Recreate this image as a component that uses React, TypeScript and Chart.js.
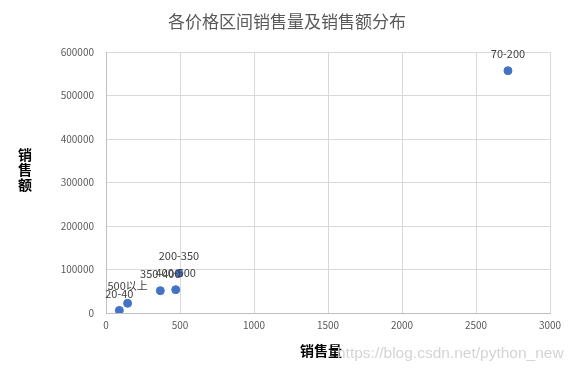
import React, { useEffect, useRef } from "react";
import { Chart, registerables } from "chart.js";

Chart.register(...registerables);

const categories = ["20-40", "500以上", "350-400", "400-500", "200-350", "70-200"];
const salesVolume = [90, 146, 367, 471, 493, 2716];
const salesAmount = [6000, 22300, 51300, 53600, 91300, 557000];
const xTicks = [0, 500, 1000, 1500, 2000, 2500, 3000];
const yTicks = [0, 100000, 200000, 300000, 400000, 500000, 600000];
const titleText = "各价格区间销售量及销售额分布";
const xTitle = "销售量";
const yTitle = "销售额";
const watermark = "https://blog.csdn.net/python_new";

const FONT = "'Noto Sans CJK SC', 'Liberation Sans', sans-serif";

export default function App() {
  const ref = useRef<HTMLCanvasElement | null>(null);
  useEffect(() => {
    document.body.style.margin = "0";
    const canvas = ref.current;
    if (!canvas) return;
    const labelPlugin = {
      id: "customText",
      afterDatasetsDraw(chart: any) {
        const ctx = chart.ctx;
        const meta = chart.getDatasetMeta(0);
        ctx.save();
        ctx.font = `11px ${FONT}`;
        ctx.fillStyle = "#404040";
        ctx.textAlign = "center";
        ctx.textBaseline = "middle";
        meta.data.forEach((pt: any, i: number) => {
          ctx.fillText(categories[i], pt.x, pt.y - 17);
        });
        ctx.restore();
      },
      afterDraw(chart: any) {
        const ctx = chart.ctx;
        const area = chart.chartArea;
        ctx.save();
        ctx.textAlign = "center";
        ctx.textBaseline = "middle";
        ctx.font = `17px ${FONT}`;
        ctx.fillStyle = "#595959";
        ctx.fillText(titleText, 287, 22);
        ctx.font = `bold 14px ${FONT}`;
        ctx.fillStyle = "#000000";
        ctx.fillText(xTitle, (area.left + area.right) / 2 - 7, 351);
        for (let i = 0; i < yTitle.length; i++) {
          ctx.fillText(yTitle[i], 25, 155 + i * 15);
        }
        ctx.font = `15.5px 'Liberation Sans', Arial, sans-serif`;
        ctx.fillStyle = "#d4d4d4";
        ctx.textAlign = "left";
        ctx.fillText(watermark, 337, 354);
        ctx.restore();
      },
    };
    const chart = new Chart(canvas, {
      type: "scatter",
      data: {
        datasets: [
          {
            data: salesVolume.map((v, i) => ({ x: v, y: salesAmount[i] })),
            backgroundColor: "#4472C4",
            borderColor: "#4472C4",
            pointRadius: 4,
            pointHoverRadius: 4,
          },
        ],
      },
      options: {
        animation: false,
        responsive: false,
        maintainAspectRatio: false,
        layout: { padding: { top: 52, right: 27, left: 0, bottom: 0 } },
        plugins: {
          legend: { display: false },
          tooltip: { enabled: false },
          title: { display: false },
        },
        scales: {
          x: {
            type: "linear",
            min: 0,
            max: 3000,
            afterBuildTicks: (s: any) => {
              s.ticks = xTicks.map((v) => ({ value: v }));
            },
            afterFit: (s: any) => {
              s.height = 60;
            },
            ticks: {
              color: "#595959",
              font: { family: FONT, size: 10 },
              padding: 6,
              maxRotation: 0,
              callback: (v: any) => String(v),
            },
            grid: { color: "#d9d9d9", drawTicks: false },
            border: { color: "#bfbfbf" },
          },
          y: {
            type: "linear",
            min: 0,
            max: 600000,
            afterBuildTicks: (s: any) => {
              s.ticks = yTicks.map((v) => ({ value: v }));
            },
            afterFit: (s: any) => {
              s.width = 106;
            },
            ticks: {
              color: "#595959",
              font: { family: FONT, size: 10 },
              padding: 12,
              callback: (v: any) => String(v),
            },
            grid: { color: "#d9d9d9", drawTicks: false },
            border: { color: "#bfbfbf" },
          },
        },
      },
      plugins: [labelPlugin],
    });
    return () => chart.destroy();
  }, []);
  return (
    <div style={{ width: 577, height: 373, background: "#fff" }}>
      <canvas ref={ref} width={577} height={373} style={{ display: "block" }} />
    </div>
  );
}
